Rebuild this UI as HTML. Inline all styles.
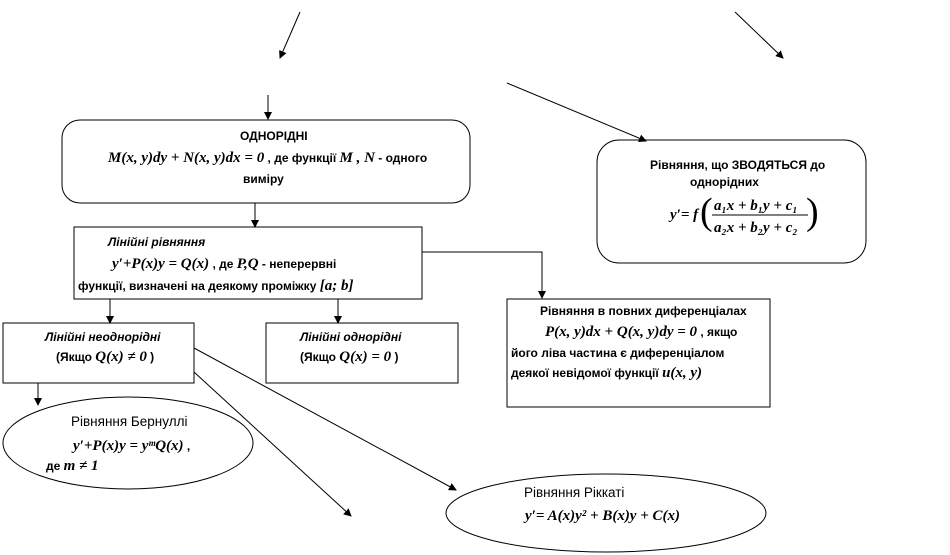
<!DOCTYPE html>
<html><head><meta charset="utf-8"><style>
html,body{margin:0;padding:0;background:#fff;width:950px;height:555px;overflow:hidden}
svg{display:block}
.s{font-family:"Liberation Sans",sans-serif;font-size:12px;font-weight:bold;fill:#000}
.n{font-family:"Liberation Sans",sans-serif;font-size:13.5px;fill:#000}
.m{font-family:"Liberation Serif",serif;font-size:15px;font-weight:bold;font-style:italic;fill:#000}
</style></head><body>
<svg width="950" height="555" viewBox="0 0 950 555" xmlns="http://www.w3.org/2000/svg">
<defs><marker id="a" markerWidth="8" markerHeight="8" refX="7" refY="4" orient="auto" markerUnits="userSpaceOnUse"><path d="M0,0 L8,4 L0,8 z" fill="#000"/></marker></defs>
<g stroke="#000" stroke-width="1" fill="none">
<line x1="300" y1="12" x2="280" y2="58" marker-end="url(#a)"/>
<line x1="735" y1="12" x2="783" y2="58" marker-end="url(#a)"/>
<line x1="268" y1="95" x2="268" y2="119" marker-end="url(#a)"/>
<line x1="507" y1="83" x2="646" y2="141" marker-end="url(#a)"/>
<rect x="62" y="120" width="408" height="83" rx="18"/>
<rect x="597" y="140" width="269" height="123" rx="22"/>
<line x1="255" y1="203" x2="255" y2="227" marker-end="url(#a)"/>
<rect x="74" y="227" width="348" height="72"/>
<polyline points="422,252 542,252 542,298" marker-end="url(#a)"/>
<rect x="507" y="299" width="263" height="108"/>
<line x1="110" y1="299" x2="110" y2="323" marker-end="url(#a)"/>
<line x1="338" y1="299" x2="338" y2="323" marker-end="url(#a)"/>
<rect x="3" y="323" width="191" height="60"/>
<rect x="266" y="323" width="192" height="60"/>
<line x1="38" y1="383" x2="38" y2="405" marker-end="url(#a)"/>
<ellipse cx="128" cy="443" rx="125" ry="46"/>
<line x1="194" y1="372" x2="351" y2="516" marker-end="url(#a)"/>
<line x1="194" y1="348" x2="456" y2="490" marker-end="url(#a)"/>
<ellipse cx="606" cy="513" rx="160" ry="39"/>
</g>
<text class="s" x="240" y="140">ОДНОРІДНІ</text>
<text x="108" y="162"><tspan class="m">M(x, y)dy + N(x, y)dx = 0</tspan><tspan class="s"> , де функції </tspan><tspan class="m">M , N</tspan><tspan class="s">  - одного</tspan></text>
<text class="s" x="243" y="183">виміру</text>

<text class="s" x="650" y="169">Рівняння, що ЗВОДЯТЬСЯ до</text>
<text class="s" x="690" y="186">однорідних</text>
<text class="m" x="670" y="219">y′= f</text>
<text x="700" y="224" font-family="Liberation Serif" font-size="38" fill="#000">(</text>
<text class="m" x="714" y="210">a₁x + b₁y + c₁</text>
<line x1="712" y1="215" x2="808" y2="215" stroke="#000"/>
<text class="m" x="714" y="232">a₂x + b₂y + c₂</text>
<text x="806" y="224" font-family="Liberation Serif" font-size="38" fill="#000">)</text>

<text class="s" x="108" y="246" font-style="italic">Лінійні рівняння</text>
<text x="112" y="268"><tspan class="m">y′+P(x)y = Q(x)</tspan><tspan class="s"> , де  </tspan><tspan class="m">P,Q</tspan><tspan class="s">  - неперервні</tspan></text>
<text x="78" y="290"><tspan class="s">функції, визначені на деякому проміжку </tspan><tspan class="m">[a; b]</tspan></text>

<text class="s" x="540" y="315">Рівняння в повних диференціалах</text>
<text x="545" y="336"><tspan class="m">P(x, y)dx + Q(x, y)dy = 0</tspan><tspan class="s"> , якщо</tspan></text>
<text class="s" x="511" y="357">його ліва частина є диференціалом</text>
<text x="511" y="377"><tspan class="s">деякої невідомої функції </tspan><tspan class="m">u(x, y)</tspan></text>

<text class="s" x="45" y="341" font-style="italic">Лінійні неоднорідні</text>
<text x="56" y="361"><tspan class="s">(Якщо </tspan><tspan class="m">Q(x) ≠ 0</tspan><tspan class="s"> )</tspan></text>
<text class="s" x="300" y="341" font-style="italic">Лінійні однорідні</text>
<text x="300" y="361"><tspan class="s">(Якщо </tspan><tspan class="m">Q(x) = 0</tspan><tspan class="s"> )</tspan></text>

<text class="n" x="71" y="426">Рівняння Бернуллі</text>
<text x="73" y="450"><tspan class="m">y′+P(x)y = yᵐQ(x)</tspan><tspan class="s"> ,</tspan></text>
<text x="46" y="470"><tspan class="s">де </tspan><tspan class="m">m ≠ 1</tspan></text>

<text class="n" x="524" y="497">Рівняння Ріккаті</text>
<text class="m" x="525" y="520">y′= A(x)y² + B(x)y + C(x)</text>
</svg>
</body></html>
